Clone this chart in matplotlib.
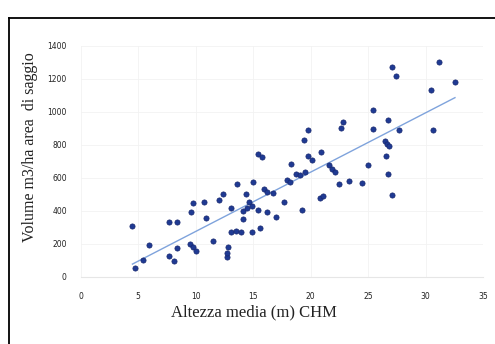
import matplotlib.pyplot as plt
import numpy as np
from matplotlib.lines import Line2D

# mean CHM height (m) and volume (m3/ha) per sample area
altezza = [4.5, 4.7, 5.4, 5.9, 7.7, 8.4, 7.7, 8.15, 8.4, 9.55, 9.8, 10.05, 9.6, 9.8,
           10.7, 10.9, 11.55, 12.0, 12.35, 12.85, 12.7, 12.75, 13.1, 13.1, 13.6, 13.5,
           13.9, 14.9, 15.6, 14.1, 14.1, 14.45, 14.35, 14.6, 14.9, 15.0, 15.4, 15.46,
           15.8, 15.9, 16.2, 16.7, 16.2, 17.0, 17.7, 17.95, 18.2, 18.3, 18.7, 19.05,
           19.55, 19.25, 19.4, 19.75, 19.75, 20.1, 20.9, 20.85, 21.1, 21.6, 21.85, 22.1,
           22.45, 22.6, 22.85, 23.3, 24.45, 24.95, 25.4, 25.4, 26.45, 26.65, 26.8, 26.55,
           26.75, 26.7, 27.05, 27.06, 27.43, 27.7, 30.5, 30.6, 31.2, 32.55]
volume = [309, 55, 103, 194, 331, 331, 123, 96, 174, 200, 178, 155, 394, 448,
          453, 356, 214, 462, 498, 180, 121, 140, 415, 268, 562, 275,
          272, 272, 296, 347, 400, 415, 503, 450, 430, 576, 404, 745,
          728, 532, 516, 509, 394, 364, 452, 588, 576, 685, 625, 615,
          636, 406, 826, 889, 731, 710, 755, 475, 486, 675, 650, 635,
          563, 900, 940, 580, 566, 677, 1010, 893, 823, 805, 792, 731,
          625, 950, 496, 1273, 1216, 889, 1131, 889, 1299, 1178]

x_ticks = [0, 5, 10, 15, 20, 25, 30, 35]
y_ticks = [0, 200, 400, 600, 800, 1000, 1200, 1400]

fig = plt.figure(figsize=(4.95, 3.44), dpi=100)
ax = fig.add_axes([0.163, 0.196, 0.813, 0.671])

ax.scatter(altezza, volume, s=14, color="#1f3a93", edgecolors="#16266e",
           linewidths=0.5, zorder=3)

# linear trendline
m, q = np.polyfit(altezza, volume, 1)
xl = np.array([min(altezza), max(altezza)])
ax.plot(xl, m * xl + q, color="#7fa3dc", lw=1.0, zorder=2)

ax.set_xlim(0, 35)
ax.set_ylim(0, 1400)
ax.set_xticks(x_ticks)
ax.set_yticks(y_ticks)
ax.tick_params(length=0, labelsize=5.5, labelcolor="#222222")
ax.tick_params(axis="x", pad=11)
ax.tick_params(axis="y", pad=10)
ax.grid(True, color="#f2f2f2", lw=0.6)
ax.set_axisbelow(True)
for s in ["top", "right", "left"]:
    ax.spines[s].set_visible(False)
ax.spines["bottom"].set_color("#e6e6e6")

ax.set_xlabel("Altezza media (m) CHM", family="Liberation Serif", fontsize=12,
              color="#222222")
ax.xaxis.set_label_coords(0.43, -0.122)
ax.set_ylabel("Volume m3/ha area  di saggio", family="Liberation Serif",
              fontsize=11.5, color="#222222")
ax.yaxis.set_label_coords(-0.107, 0.56)

# page frame (left and top)
fig.add_artist(Line2D([9 / 495, 9 / 495], [0, 1 - 18 / 344], color="black", lw=1.3))
fig.add_artist(Line2D([9 / 495, 1], [1 - 18 / 344, 1 - 18 / 344], color="black", lw=1.3))

plt.savefig("out.png", dpi=100)
